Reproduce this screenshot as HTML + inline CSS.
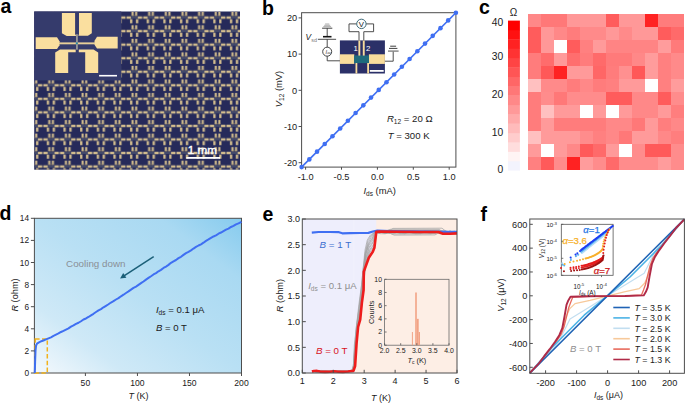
<!DOCTYPE html>
<html><head><meta charset="utf-8"><style>
html,body{margin:0;padding:0;background:#fff;width:685px;height:403px;overflow:hidden;}
svg{display:block;font-family:"Liberation Sans",sans-serif;}
</style></head><body>
<svg width="685" height="403" viewBox="0 0 685 403" font-family='"Liberation Sans", sans-serif'><defs><pattern id="pa" patternUnits="userSpaceOnUse" x="26.13" y="10.83" width="16.65" height="13.54"><rect x="4.82" y="5.87" width="7.00" height="1.80" fill="#444a6c"/><rect x="0.52" y="5.57" width="4.30" height="2.40" fill="#d4be8e"/><rect x="11.82" y="5.57" width="4.30" height="2.40" fill="#d4be8e"/><rect x="5.47" y="0.87" width="2.05" height="4.20" fill="#d4be8e"/><rect x="9.12" y="0.87" width="2.05" height="4.20" fill="#d4be8e"/><rect x="5.47" y="4.47" width="5.70" height="0.60" fill="#9c8c6c"/><rect x="4.02" y="8.37" width="2.30" height="4.10" fill="#d4be8e"/><rect x="9.92" y="8.37" width="2.30" height="4.10" fill="#d4be8e"/></pattern><filter id="blur1" x="-5%" y="-5%" width="110%" height="110%"><feGaussianBlur stdDeviation="0.45"/></filter><linearGradient id="gd" x1="0" y1="1" x2="1" y2="0"><stop offset="0" stop-color="#f4f9fd"/><stop offset="0.22" stop-color="#cfe9f7"/><stop offset="0.5" stop-color="#b9e0f4"/><stop offset="0.8" stop-color="#a9d9f2"/><stop offset="1" stop-color="#86cbee"/></linearGradient></defs><text x="0.5" y="12.7" font-size="19.5" text-anchor="start" fill="#000" font-weight="bold" font-style="normal" >a</text>
<text x="262" y="14.5" font-size="19.5" text-anchor="start" fill="#000" font-weight="bold" font-style="normal" >b</text>
<text x="479" y="14.4" font-size="19.5" text-anchor="start" fill="#000" font-weight="bold" font-style="normal" >c</text>
<text x="-0.5" y="219.7" font-size="19.5" text-anchor="start" fill="#000" font-weight="bold" font-style="normal" >d</text>
<text x="262.5" y="221.3" font-size="19.5" text-anchor="start" fill="#000" font-weight="bold" font-style="normal" >e</text>
<text x="480.5" y="221.2" font-size="19.5" text-anchor="start" fill="#000" font-weight="bold" font-style="normal" >f</text>
<g filter="url(#blur1)">
<rect x="34.2" y="11.5" width="205.80" height="158.20" fill="#262b5a"/>
<rect x="34.2" y="11.5" width="205.80" height="158.20" fill="url(#pa)"/>
<rect x="34.2" y="11.5" width="87.00" height="68.90" fill="#363a6c"/>
<polygon points="61.90,13.00 75.10,13.00 75.10,33.90 76.20,35.90 66.70,35.90 61.90,33.30" fill="#fadf9f"/>
<polygon points="79.00,13.00 91.80,13.00 91.80,33.30 87.90,35.80 78.40,35.80 79.00,33.90" fill="#fadf9f"/>
<polygon points="35.70,37.20 57.00,37.20 59.50,41.20 59.50,45.20 57.00,49.00 35.70,49.00" fill="#fadf9f"/>
<polygon points="117.70,36.70 97.00,36.70 94.50,40.80 94.50,44.80 97.00,48.60 117.70,48.60" fill="#fadf9f"/>
<polygon points="55.20,73.00 55.20,52.50 60.00,49.60 75.70,49.60 75.70,52.30 68.20,52.30 68.20,73.00" fill="#fadf9f"/>
<polygon points="98.20,73.00 98.20,52.50 93.50,49.60 78.80,49.60 78.80,52.30 85.20,52.30 85.20,73.00" fill="#fadf9f"/>
<rect x="59" y="42.4" width="17.2" height="1.9" fill="#e8cf98"/>
<rect x="77.8" y="42.4" width="17.2" height="1.9" fill="#e8cf98"/>
<rect x="76.3" y="34.2" width="1.3" height="15.5" fill="#c0bca8"/>
<circle cx="76.8" cy="43.3" r="1.1" fill="#2a8aa0"/>
<rect x="99.1" y="74.9" width="17.9" height="1.6" fill="#fff"/>
</g>
<rect x="186.3" y="157" width="33.8" height="1.8" fill="#fff"/>
<text x="187.7" y="153.6" font-size="10.2" text-anchor="start" fill="#fff" font-weight="normal" font-style="normal" textLength="29.3" lengthAdjust="spacingAndGlyphs" stroke="#fff" stroke-width="0.35">1 mm</text>
<rect x="301.6" y="12.7" width="154.30" height="154.40" fill="none" stroke="#4d4d4d" stroke-width="1"/>
<line x1="305.60" y1="167.1" x2="305.60" y2="169.7" stroke="#4d4d4d" stroke-width="1"/>
<text x="305.6" y="180.3" font-size="9.2" text-anchor="middle" fill="#1a1a1a" font-weight="normal" font-style="normal" >-1.0</text>
<line x1="341.50" y1="167.1" x2="341.50" y2="169.7" stroke="#4d4d4d" stroke-width="1"/>
<text x="341.5" y="180.3" font-size="9.2" text-anchor="middle" fill="#1a1a1a" font-weight="normal" font-style="normal" >-0.5</text>
<line x1="377.40" y1="167.1" x2="377.40" y2="169.7" stroke="#4d4d4d" stroke-width="1"/>
<text x="377.4" y="180.3" font-size="9.2" text-anchor="middle" fill="#1a1a1a" font-weight="normal" font-style="normal" >0.0</text>
<line x1="413.30" y1="167.1" x2="413.30" y2="169.7" stroke="#4d4d4d" stroke-width="1"/>
<text x="413.3" y="180.3" font-size="9.2" text-anchor="middle" fill="#1a1a1a" font-weight="normal" font-style="normal" >0.5</text>
<line x1="449.20" y1="167.1" x2="449.20" y2="169.7" stroke="#4d4d4d" stroke-width="1"/>
<text x="449.2" y="180.3" font-size="9.2" text-anchor="middle" fill="#1a1a1a" font-weight="normal" font-style="normal" >1.0</text>
<line x1="298.6" y1="17.90" x2="301.6" y2="17.90" stroke="#4d4d4d" stroke-width="1"/>
<text x="297.2" y="21.2" font-size="9.2" text-anchor="end" fill="#1a1a1a" font-weight="normal" font-style="normal" >20</text>
<line x1="298.6" y1="54.10" x2="301.6" y2="54.10" stroke="#4d4d4d" stroke-width="1"/>
<text x="297.2" y="57.4" font-size="9.2" text-anchor="end" fill="#1a1a1a" font-weight="normal" font-style="normal" >10</text>
<line x1="298.6" y1="90.30" x2="301.6" y2="90.30" stroke="#4d4d4d" stroke-width="1"/>
<text x="297.2" y="93.6" font-size="9.2" text-anchor="end" fill="#1a1a1a" font-weight="normal" font-style="normal" >0</text>
<line x1="298.6" y1="126.50" x2="301.6" y2="126.50" stroke="#4d4d4d" stroke-width="1"/>
<text x="297.2" y="129.8" font-size="9.2" text-anchor="end" fill="#1a1a1a" font-weight="normal" font-style="normal" >-10</text>
<line x1="298.6" y1="162.70" x2="301.6" y2="162.70" stroke="#4d4d4d" stroke-width="1"/>
<text x="297.2" y="166.0" font-size="9.2" text-anchor="end" fill="#1a1a1a" font-weight="normal" font-style="normal" >-20</text>
<text x="0" y="0" font-size="9.4" text-anchor="middle" fill="#1a1a1a" transform="translate(281.6,89) rotate(-90)"><tspan font-style="italic">V</tspan><tspan font-size="6.5" dy="2">12</tspan><tspan dy="-2"> (mV)</tspan></text>
<text x="363.5" y="193.6" font-size="9.4" fill="#1a1a1a"><tspan font-style="italic">I</tspan><tspan font-size="6.5" dy="2">ds</tspan><tspan dy="-2"> (mA)</tspan></text>
<line x1="301.6" y1="167.1" x2="455.9" y2="12.7" stroke="#3f6ff2" stroke-width="1.6"/>
<circle cx="301.60" cy="167.10" r="2.3" fill="#3f6ff2"/>
<circle cx="309.31" cy="159.38" r="2.3" fill="#3f6ff2"/>
<circle cx="317.03" cy="151.66" r="2.3" fill="#3f6ff2"/>
<circle cx="324.75" cy="143.94" r="2.3" fill="#3f6ff2"/>
<circle cx="332.46" cy="136.22" r="2.3" fill="#3f6ff2"/>
<circle cx="340.18" cy="128.50" r="2.3" fill="#3f6ff2"/>
<circle cx="347.89" cy="120.78" r="2.3" fill="#3f6ff2"/>
<circle cx="355.61" cy="113.06" r="2.3" fill="#3f6ff2"/>
<circle cx="363.32" cy="105.34" r="2.3" fill="#3f6ff2"/>
<circle cx="371.03" cy="97.62" r="2.3" fill="#3f6ff2"/>
<circle cx="378.75" cy="89.90" r="2.3" fill="#3f6ff2"/>
<circle cx="386.47" cy="82.18" r="2.3" fill="#3f6ff2"/>
<circle cx="394.18" cy="74.46" r="2.3" fill="#3f6ff2"/>
<circle cx="401.89" cy="66.74" r="2.3" fill="#3f6ff2"/>
<circle cx="409.61" cy="59.02" r="2.3" fill="#3f6ff2"/>
<circle cx="417.32" cy="51.30" r="2.3" fill="#3f6ff2"/>
<circle cx="425.04" cy="43.58" r="2.3" fill="#3f6ff2"/>
<circle cx="432.75" cy="35.86" r="2.3" fill="#3f6ff2"/>
<circle cx="440.47" cy="28.14" r="2.3" fill="#3f6ff2"/>
<circle cx="448.18" cy="20.42" r="2.3" fill="#3f6ff2"/>
<circle cx="455.90" cy="12.70" r="2.3" fill="#3f6ff2"/>
<text x="386.9" y="121.9" font-size="9.6" fill="#1a1a1a"><tspan font-style="italic">R</tspan><tspan font-size="6.6" dy="2.4">12</tspan><tspan dy="-2.4"> = 20 Ω</tspan></text>
<text x="387.7" y="139.2" font-size="9.6" fill="#1a1a1a"><tspan font-style="italic">T</tspan> = 300 K</text>
<line x1="325.09999999999997" y1="24.0" x2="329.3" y2="24.0" stroke="#9a9a9a" stroke-width="0.8"/>
<line x1="324.2" y1="25.3" x2="330.2" y2="25.3" stroke="#9a9a9a" stroke-width="0.8"/>
<line x1="323.3" y1="26.6" x2="331.09999999999997" y2="26.6" stroke="#9a9a9a" stroke-width="0.8"/>
<line x1="322.09999999999997" y1="28.2" x2="332.3" y2="28.2" stroke="#2a2a2a" stroke-width="0.9"/>
<line x1="327.2" y1="28.2" x2="327.2" y2="36.0" stroke="#3a3a3a" stroke-width="0.9"/>
<line x1="323.0" y1="36.7" x2="331.5" y2="36.7" stroke="#111" stroke-width="1.6"/>
<line x1="317.9" y1="39.3" x2="336.1" y2="39.3" stroke="#3a3a3a" stroke-width="0.9"/>
<line x1="327.2" y1="39.3" x2="327.2" y2="47.2" stroke="#3a3a3a" stroke-width="0.9"/>
<circle cx="327.2" cy="51.7" r="4.5" fill="#fff" stroke="#333" stroke-width="0.9"/>
<text x="325.59999999999997" y="53.6" font-size="5.6" font-style="italic" fill="#333">I<tspan font-size="3.6" dy="0.8">ac</tspan></text>
<line x1="327.2" y1="56.2" x2="327.2" y2="60.8" stroke="#3a3a3a" stroke-width="0.9"/>
<line x1="327.2" y1="60.8" x2="340" y2="60.8" stroke="#3a3a3a" stroke-width="0.9"/>
<text x="305.6" y="39.5" font-size="8.4" fill="#1a1a1a"><tspan font-style="italic">V</tspan><tspan font-size="5.4" dy="2.3" fill="#808080">sd</tspan></text>
<rect x="339.9" y="40.4" width="45" height="33.1" fill="#2b3068"/>
<rect x="339.9" y="54.3" width="14.4" height="9.6" fill="#f8dc9c"/>
<rect x="368.9" y="54.3" width="16" height="9.6" fill="#f8dc9c"/>
<rect x="354.1" y="55.4" width="14.9" height="7.7" fill="#1f6b7c"/>
<rect x="358.4" y="40.4" width="1.9" height="15.2" fill="#f8dc9c"/>
<rect x="362.8" y="40.4" width="1.9" height="15.2" fill="#f8dc9c"/>
<rect x="355.5" y="63" width="1.8" height="10.5" fill="#f8dc9c"/>
<rect x="367.2" y="63" width="1.8" height="10.5" fill="#f8dc9c"/>
<rect x="369.8" y="70" width="13.9" height="1.8" fill="#fff"/>
<text x="353.6" y="50.6" font-size="7.8" text-anchor="start" fill="#fff" font-weight="normal" font-style="normal" >1</text>
<text x="366.0" y="50.6" font-size="7.8" text-anchor="start" fill="#fff" font-weight="normal" font-style="normal" >2</text>
<line x1="359.0" y1="40.4" x2="359.0" y2="31.7" stroke="#3a3a3a" stroke-width="0.9"/>
<line x1="359.0" y1="31.7" x2="349.0" y2="31.7" stroke="#3a3a3a" stroke-width="0.9"/>
<line x1="349.0" y1="31.7" x2="349.0" y2="23.9" stroke="#3a3a3a" stroke-width="0.9"/>
<line x1="349.0" y1="23.9" x2="356.7" y2="23.9" stroke="#3a3a3a" stroke-width="0.9"/>
<line x1="363.8" y1="40.4" x2="363.8" y2="31.7" stroke="#3a3a3a" stroke-width="0.9"/>
<line x1="363.8" y1="31.7" x2="373.6" y2="31.7" stroke="#3a3a3a" stroke-width="0.9"/>
<line x1="373.6" y1="31.7" x2="373.6" y2="23.9" stroke="#3a3a3a" stroke-width="0.9"/>
<line x1="373.6" y1="23.9" x2="366.1" y2="23.9" stroke="#3a3a3a" stroke-width="0.9"/>
<circle cx="361.4" cy="23.9" r="4.7" fill="#fff" stroke="#2a5a6a" stroke-width="0.9"/>
<text x="361.4" y="26.8" font-size="7.8" text-anchor="middle" fill="#1a1a1a" font-weight="normal" font-style="normal" >V</text>
<line x1="384.9" y1="61.2" x2="393.2" y2="61.2" stroke="#3a3a3a" stroke-width="0.9"/>
<line x1="393.2" y1="61.2" x2="393.2" y2="51.1" stroke="#3a3a3a" stroke-width="0.9"/>
<line x1="390.2" y1="46.2" x2="396.1" y2="46.2" stroke="#2a2a2a" stroke-width="0.9"/>
<line x1="389.0" y1="48.4" x2="397.4" y2="48.4" stroke="#2a2a2a" stroke-width="0.9"/>
<line x1="388.0" y1="51.1" x2="398.6" y2="51.1" stroke="#8a8a8a" stroke-width="1.5"/>
<rect x="527.50" y="13.50" width="13.30" height="13.30" fill="#ff8888" shape-rendering="crispEdges"/>
<rect x="540.50" y="13.50" width="13.30" height="13.30" fill="#ff7878" shape-rendering="crispEdges"/>
<rect x="553.50" y="13.50" width="13.30" height="13.30" fill="#ff7878" shape-rendering="crispEdges"/>
<rect x="566.50" y="13.50" width="13.30" height="13.30" fill="#ff9898" shape-rendering="crispEdges"/>
<rect x="579.50" y="13.50" width="13.30" height="13.30" fill="#ff9898" shape-rendering="crispEdges"/>
<rect x="592.50" y="13.50" width="13.30" height="13.30" fill="#ff9898" shape-rendering="crispEdges"/>
<rect x="605.50" y="13.50" width="13.30" height="13.30" fill="#ff5c5c" shape-rendering="crispEdges"/>
<rect x="618.50" y="13.50" width="13.30" height="13.30" fill="#ff9898" shape-rendering="crispEdges"/>
<rect x="631.50" y="13.50" width="13.30" height="13.30" fill="#ff9898" shape-rendering="crispEdges"/>
<rect x="644.50" y="13.50" width="13.30" height="13.30" fill="#ff2222" shape-rendering="crispEdges"/>
<rect x="657.50" y="13.50" width="13.30" height="13.30" fill="#ff7c7c" shape-rendering="crispEdges"/>
<rect x="670.50" y="13.50" width="13.30" height="13.30" fill="#ff7c7c" shape-rendering="crispEdges"/>
<rect x="527.50" y="26.50" width="13.30" height="13.30" fill="#ff5c5c" shape-rendering="crispEdges"/>
<rect x="540.50" y="26.50" width="13.30" height="13.30" fill="#ff9898" shape-rendering="crispEdges"/>
<rect x="553.50" y="26.50" width="13.30" height="13.30" fill="#ff8888" shape-rendering="crispEdges"/>
<rect x="566.50" y="26.50" width="13.30" height="13.30" fill="#ff7c7c" shape-rendering="crispEdges"/>
<rect x="579.50" y="26.50" width="13.30" height="13.30" fill="#ff8a8a" shape-rendering="crispEdges"/>
<rect x="592.50" y="26.50" width="13.30" height="13.30" fill="#ff8a8a" shape-rendering="crispEdges"/>
<rect x="605.50" y="26.50" width="13.30" height="13.30" fill="#ff9898" shape-rendering="crispEdges"/>
<rect x="618.50" y="26.50" width="13.30" height="13.30" fill="#ff8a8a" shape-rendering="crispEdges"/>
<rect x="631.50" y="26.50" width="13.30" height="13.30" fill="#ff9898" shape-rendering="crispEdges"/>
<rect x="644.50" y="26.50" width="13.30" height="13.30" fill="#ff9898" shape-rendering="crispEdges"/>
<rect x="657.50" y="26.50" width="13.30" height="13.30" fill="#ff5c5c" shape-rendering="crispEdges"/>
<rect x="670.50" y="26.50" width="13.30" height="13.30" fill="#ff6a6a" shape-rendering="crispEdges"/>
<rect x="527.50" y="39.50" width="13.30" height="13.30" fill="#ff5c5c" shape-rendering="crispEdges"/>
<rect x="540.50" y="39.50" width="13.30" height="13.30" fill="#ff9898" shape-rendering="crispEdges"/>
<rect x="553.50" y="39.50" width="13.30" height="13.30" fill="#ffffff" shape-rendering="crispEdges"/>
<rect x="566.50" y="39.50" width="13.30" height="13.30" fill="#ff5c5c" shape-rendering="crispEdges"/>
<rect x="579.50" y="39.50" width="13.30" height="13.30" fill="#ff8080" shape-rendering="crispEdges"/>
<rect x="592.50" y="39.50" width="13.30" height="13.30" fill="#ff9a9a" shape-rendering="crispEdges"/>
<rect x="605.50" y="39.50" width="13.30" height="13.30" fill="#ff8484" shape-rendering="crispEdges"/>
<rect x="618.50" y="39.50" width="13.30" height="13.30" fill="#ff8484" shape-rendering="crispEdges"/>
<rect x="631.50" y="39.50" width="13.30" height="13.30" fill="#ff8484" shape-rendering="crispEdges"/>
<rect x="644.50" y="39.50" width="13.30" height="13.30" fill="#ff8484" shape-rendering="crispEdges"/>
<rect x="657.50" y="39.50" width="13.30" height="13.30" fill="#ff9c9c" shape-rendering="crispEdges"/>
<rect x="670.50" y="39.50" width="13.30" height="13.30" fill="#ff7a7a" shape-rendering="crispEdges"/>
<rect x="527.50" y="52.50" width="13.30" height="13.30" fill="#ff7c7c" shape-rendering="crispEdges"/>
<rect x="540.50" y="52.50" width="13.30" height="13.30" fill="#ff6c6c" shape-rendering="crispEdges"/>
<rect x="553.50" y="52.50" width="13.30" height="13.30" fill="#ff9a9a" shape-rendering="crispEdges"/>
<rect x="566.50" y="52.50" width="13.30" height="13.30" fill="#ff6e6e" shape-rendering="crispEdges"/>
<rect x="579.50" y="52.50" width="13.30" height="13.30" fill="#ff7c7c" shape-rendering="crispEdges"/>
<rect x="592.50" y="52.50" width="13.30" height="13.30" fill="#ff6a6a" shape-rendering="crispEdges"/>
<rect x="605.50" y="52.50" width="13.30" height="13.30" fill="#ff7a7a" shape-rendering="crispEdges"/>
<rect x="618.50" y="52.50" width="13.30" height="13.30" fill="#ff7a7a" shape-rendering="crispEdges"/>
<rect x="631.50" y="52.50" width="13.30" height="13.30" fill="#ff8888" shape-rendering="crispEdges"/>
<rect x="644.50" y="52.50" width="13.30" height="13.30" fill="#ff9c9c" shape-rendering="crispEdges"/>
<rect x="657.50" y="52.50" width="13.30" height="13.30" fill="#ff8080" shape-rendering="crispEdges"/>
<rect x="670.50" y="52.50" width="13.30" height="13.30" fill="#ff8a8a" shape-rendering="crispEdges"/>
<rect x="527.50" y="65.50" width="13.30" height="13.30" fill="#ff7c7c" shape-rendering="crispEdges"/>
<rect x="540.50" y="65.50" width="13.30" height="13.30" fill="#ff5858" shape-rendering="crispEdges"/>
<rect x="553.50" y="65.50" width="13.30" height="13.30" fill="#ff2222" shape-rendering="crispEdges"/>
<rect x="566.50" y="65.50" width="13.30" height="13.30" fill="#ff9a9a" shape-rendering="crispEdges"/>
<rect x="579.50" y="65.50" width="13.30" height="13.30" fill="#ff9a9a" shape-rendering="crispEdges"/>
<rect x="592.50" y="65.50" width="13.30" height="13.30" fill="#ff6666" shape-rendering="crispEdges"/>
<rect x="605.50" y="65.50" width="13.30" height="13.30" fill="#ff7c7c" shape-rendering="crispEdges"/>
<rect x="618.50" y="65.50" width="13.30" height="13.30" fill="#ff9090" shape-rendering="crispEdges"/>
<rect x="631.50" y="65.50" width="13.30" height="13.30" fill="#ff5858" shape-rendering="crispEdges"/>
<rect x="644.50" y="65.50" width="13.30" height="13.30" fill="#ff9c9c" shape-rendering="crispEdges"/>
<rect x="657.50" y="65.50" width="13.30" height="13.30" fill="#ff8080" shape-rendering="crispEdges"/>
<rect x="670.50" y="65.50" width="13.30" height="13.30" fill="#ff8a8a" shape-rendering="crispEdges"/>
<rect x="527.50" y="78.50" width="13.30" height="13.30" fill="#ffc0c0" shape-rendering="crispEdges"/>
<rect x="540.50" y="78.50" width="13.30" height="13.30" fill="#ff8a8a" shape-rendering="crispEdges"/>
<rect x="553.50" y="78.50" width="13.30" height="13.30" fill="#ff8a8a" shape-rendering="crispEdges"/>
<rect x="566.50" y="78.50" width="13.30" height="13.30" fill="#ff7c7c" shape-rendering="crispEdges"/>
<rect x="579.50" y="78.50" width="13.30" height="13.30" fill="#ff8888" shape-rendering="crispEdges"/>
<rect x="592.50" y="78.50" width="13.30" height="13.30" fill="#ff7c7c" shape-rendering="crispEdges"/>
<rect x="605.50" y="78.50" width="13.30" height="13.30" fill="#ff8080" shape-rendering="crispEdges"/>
<rect x="618.50" y="78.50" width="13.30" height="13.30" fill="#ff9a9a" shape-rendering="crispEdges"/>
<rect x="631.50" y="78.50" width="13.30" height="13.30" fill="#ff9a9a" shape-rendering="crispEdges"/>
<rect x="644.50" y="78.50" width="13.30" height="13.30" fill="#ffffff" shape-rendering="crispEdges"/>
<rect x="657.50" y="78.50" width="13.30" height="13.30" fill="#ff8080" shape-rendering="crispEdges"/>
<rect x="670.50" y="78.50" width="13.30" height="13.30" fill="#ff9c9c" shape-rendering="crispEdges"/>
<rect x="527.50" y="91.50" width="13.30" height="13.30" fill="#ff7c7c" shape-rendering="crispEdges"/>
<rect x="540.50" y="91.50" width="13.30" height="13.30" fill="#ff8c8c" shape-rendering="crispEdges"/>
<rect x="553.50" y="91.50" width="13.30" height="13.30" fill="#ff7878" shape-rendering="crispEdges"/>
<rect x="566.50" y="91.50" width="13.30" height="13.30" fill="#ff8c8c" shape-rendering="crispEdges"/>
<rect x="579.50" y="91.50" width="13.30" height="13.30" fill="#ff8c8c" shape-rendering="crispEdges"/>
<rect x="592.50" y="91.50" width="13.30" height="13.30" fill="#ff8c8c" shape-rendering="crispEdges"/>
<rect x="605.50" y="91.50" width="13.30" height="13.30" fill="#ff5c5c" shape-rendering="crispEdges"/>
<rect x="618.50" y="91.50" width="13.30" height="13.30" fill="#ff5c5c" shape-rendering="crispEdges"/>
<rect x="631.50" y="91.50" width="13.30" height="13.30" fill="#ff8888" shape-rendering="crispEdges"/>
<rect x="644.50" y="91.50" width="13.30" height="13.30" fill="#ff8888" shape-rendering="crispEdges"/>
<rect x="657.50" y="91.50" width="13.30" height="13.30" fill="#ff5c5c" shape-rendering="crispEdges"/>
<rect x="670.50" y="91.50" width="13.30" height="13.30" fill="#ff8c8c" shape-rendering="crispEdges"/>
<rect x="527.50" y="104.50" width="13.30" height="13.30" fill="#ff7c7c" shape-rendering="crispEdges"/>
<rect x="540.50" y="104.50" width="13.30" height="13.30" fill="#ffc0c0" shape-rendering="crispEdges"/>
<rect x="553.50" y="104.50" width="13.30" height="13.30" fill="#ff9a9a" shape-rendering="crispEdges"/>
<rect x="566.50" y="104.50" width="13.30" height="13.30" fill="#ff9a9a" shape-rendering="crispEdges"/>
<rect x="579.50" y="104.50" width="13.30" height="13.30" fill="#ffffff" shape-rendering="crispEdges"/>
<rect x="592.50" y="104.50" width="13.30" height="13.30" fill="#ff9a9a" shape-rendering="crispEdges"/>
<rect x="605.50" y="104.50" width="13.30" height="13.30" fill="#ffffff" shape-rendering="crispEdges"/>
<rect x="618.50" y="104.50" width="13.30" height="13.30" fill="#ff9a9a" shape-rendering="crispEdges"/>
<rect x="631.50" y="104.50" width="13.30" height="13.30" fill="#ff8888" shape-rendering="crispEdges"/>
<rect x="644.50" y="104.50" width="13.30" height="13.30" fill="#ff8888" shape-rendering="crispEdges"/>
<rect x="657.50" y="104.50" width="13.30" height="13.30" fill="#ff9a9a" shape-rendering="crispEdges"/>
<rect x="670.50" y="104.50" width="13.30" height="13.30" fill="#ff7e7e" shape-rendering="crispEdges"/>
<rect x="527.50" y="117.50" width="13.30" height="13.30" fill="#ff7c7c" shape-rendering="crispEdges"/>
<rect x="540.50" y="117.50" width="13.30" height="13.30" fill="#ff9a9a" shape-rendering="crispEdges"/>
<rect x="553.50" y="117.50" width="13.30" height="13.30" fill="#ff7c7c" shape-rendering="crispEdges"/>
<rect x="566.50" y="117.50" width="13.30" height="13.30" fill="#ff7c7c" shape-rendering="crispEdges"/>
<rect x="579.50" y="117.50" width="13.30" height="13.30" fill="#ff7c7c" shape-rendering="crispEdges"/>
<rect x="592.50" y="117.50" width="13.30" height="13.30" fill="#ff7c7c" shape-rendering="crispEdges"/>
<rect x="605.50" y="117.50" width="13.30" height="13.30" fill="#ff8888" shape-rendering="crispEdges"/>
<rect x="618.50" y="117.50" width="13.30" height="13.30" fill="#ff8888" shape-rendering="crispEdges"/>
<rect x="631.50" y="117.50" width="13.30" height="13.30" fill="#ff7878" shape-rendering="crispEdges"/>
<rect x="644.50" y="117.50" width="13.30" height="13.30" fill="#ff9a9a" shape-rendering="crispEdges"/>
<rect x="657.50" y="117.50" width="13.30" height="13.30" fill="#ff7e7e" shape-rendering="crispEdges"/>
<rect x="670.50" y="117.50" width="13.30" height="13.30" fill="#ff8888" shape-rendering="crispEdges"/>
<rect x="527.50" y="130.50" width="13.30" height="13.30" fill="#ffc0c0" shape-rendering="crispEdges"/>
<rect x="540.50" y="130.50" width="13.30" height="13.30" fill="#ff9a9a" shape-rendering="crispEdges"/>
<rect x="553.50" y="130.50" width="13.30" height="13.30" fill="#ff9a9a" shape-rendering="crispEdges"/>
<rect x="566.50" y="130.50" width="13.30" height="13.30" fill="#ff9a9a" shape-rendering="crispEdges"/>
<rect x="579.50" y="130.50" width="13.30" height="13.30" fill="#ff8c8c" shape-rendering="crispEdges"/>
<rect x="592.50" y="130.50" width="13.30" height="13.30" fill="#ff8080" shape-rendering="crispEdges"/>
<rect x="605.50" y="130.50" width="13.30" height="13.30" fill="#ff8888" shape-rendering="crispEdges"/>
<rect x="618.50" y="130.50" width="13.30" height="13.30" fill="#ff7878" shape-rendering="crispEdges"/>
<rect x="631.50" y="130.50" width="13.30" height="13.30" fill="#ff9a9a" shape-rendering="crispEdges"/>
<rect x="644.50" y="130.50" width="13.30" height="13.30" fill="#ff9a9a" shape-rendering="crispEdges"/>
<rect x="657.50" y="130.50" width="13.30" height="13.30" fill="#ff8888" shape-rendering="crispEdges"/>
<rect x="670.50" y="130.50" width="13.30" height="13.30" fill="#ff7e7e" shape-rendering="crispEdges"/>
<rect x="527.50" y="143.50" width="13.30" height="13.30" fill="#ff9a9a" shape-rendering="crispEdges"/>
<rect x="540.50" y="143.50" width="13.30" height="13.30" fill="#ffffff" shape-rendering="crispEdges"/>
<rect x="553.50" y="143.50" width="13.30" height="13.30" fill="#ff9a9a" shape-rendering="crispEdges"/>
<rect x="566.50" y="143.50" width="13.30" height="13.30" fill="#ff8888" shape-rendering="crispEdges"/>
<rect x="579.50" y="143.50" width="13.30" height="13.30" fill="#ff5a5a" shape-rendering="crispEdges"/>
<rect x="592.50" y="143.50" width="13.30" height="13.30" fill="#ff6a6a" shape-rendering="crispEdges"/>
<rect x="605.50" y="143.50" width="13.30" height="13.30" fill="#ff9a9a" shape-rendering="crispEdges"/>
<rect x="618.50" y="143.50" width="13.30" height="13.30" fill="#ffffff" shape-rendering="crispEdges"/>
<rect x="631.50" y="143.50" width="13.30" height="13.30" fill="#ff8c8c" shape-rendering="crispEdges"/>
<rect x="644.50" y="143.50" width="13.30" height="13.30" fill="#ff5a5a" shape-rendering="crispEdges"/>
<rect x="657.50" y="143.50" width="13.30" height="13.30" fill="#ff5a5a" shape-rendering="crispEdges"/>
<rect x="670.50" y="143.50" width="13.30" height="13.30" fill="#ff8c8c" shape-rendering="crispEdges"/>
<rect x="527.50" y="156.50" width="13.30" height="13.30" fill="#ff8080" shape-rendering="crispEdges"/>
<rect x="540.50" y="156.50" width="13.30" height="13.30" fill="#ff5a5a" shape-rendering="crispEdges"/>
<rect x="553.50" y="156.50" width="13.30" height="13.30" fill="#ff8c8c" shape-rendering="crispEdges"/>
<rect x="566.50" y="156.50" width="13.30" height="13.30" fill="#ff2222" shape-rendering="crispEdges"/>
<rect x="579.50" y="156.50" width="13.30" height="13.30" fill="#ff9c9c" shape-rendering="crispEdges"/>
<rect x="592.50" y="156.50" width="13.30" height="13.30" fill="#ff8c8c" shape-rendering="crispEdges"/>
<rect x="605.50" y="156.50" width="13.30" height="13.30" fill="#ff6a6a" shape-rendering="crispEdges"/>
<rect x="618.50" y="156.50" width="13.30" height="13.30" fill="#ff8c8c" shape-rendering="crispEdges"/>
<rect x="631.50" y="156.50" width="13.30" height="13.30" fill="#ff8c8c" shape-rendering="crispEdges"/>
<rect x="644.50" y="156.50" width="13.30" height="13.30" fill="#ff8c8c" shape-rendering="crispEdges"/>
<rect x="657.50" y="156.50" width="13.30" height="13.30" fill="#ff9c9c" shape-rendering="crispEdges"/>
<rect x="670.50" y="156.50" width="13.30" height="13.30" fill="#ff8c8c" shape-rendering="crispEdges"/>
<rect x="508.0" y="160.94" width="11.9" height="9.66" fill="#f3f3fd"/>
<rect x="508.0" y="151.59" width="11.9" height="9.66" fill="#fff4f4"/>
<rect x="508.0" y="142.23" width="11.9" height="9.66" fill="#ffdddd"/>
<rect x="508.0" y="132.88" width="11.9" height="9.66" fill="#ffcccc"/>
<rect x="508.0" y="123.52" width="11.9" height="9.66" fill="#ffbbbb"/>
<rect x="508.0" y="114.16" width="11.9" height="9.66" fill="#ffaaaa"/>
<rect x="508.0" y="104.81" width="11.9" height="9.66" fill="#ff9999"/>
<rect x="508.0" y="95.45" width="11.9" height="9.66" fill="#ff8888"/>
<rect x="508.0" y="86.09" width="11.9" height="9.66" fill="#ff7777"/>
<rect x="508.0" y="76.74" width="11.9" height="9.66" fill="#ff6666"/>
<rect x="508.0" y="67.38" width="11.9" height="9.66" fill="#ff5555"/>
<rect x="508.0" y="58.03" width="11.9" height="9.66" fill="#ff4444"/>
<rect x="508.0" y="48.67" width="11.9" height="9.66" fill="#ff3333"/>
<rect x="508.0" y="39.31" width="11.9" height="9.66" fill="#ff2222"/>
<rect x="508.0" y="29.96" width="11.9" height="9.66" fill="#ff1111"/>
<rect x="508.0" y="20.60" width="11.9" height="9.66" fill="#ff0000"/>
<text x="503.2" y="26.0" font-size="10.3" text-anchor="end" fill="#1a1a1a" font-weight="normal" font-style="normal" >40</text>
<text x="503.2" y="60.3" font-size="10.3" text-anchor="end" fill="#1a1a1a" font-weight="normal" font-style="normal" >30</text>
<text x="503.2" y="97.9" font-size="10.3" text-anchor="end" fill="#1a1a1a" font-weight="normal" font-style="normal" >20</text>
<text x="503.2" y="136.0" font-size="10.3" text-anchor="end" fill="#1a1a1a" font-weight="normal" font-style="normal" >10</text>
<text x="503.2" y="172.9" font-size="10.3" text-anchor="end" fill="#1a1a1a" font-weight="normal" font-style="normal" >0</text>
<text x="513.6" y="15.6" font-size="10" text-anchor="middle" fill="#1a1a1a" font-weight="normal" font-style="normal" >Ω</text>
<rect x="34.4" y="218.3" width="207.10" height="154.70" fill="url(#gd)" stroke="#4d4d4d" stroke-width="1"/>
<line x1="30.9" y1="373.00" x2="34.4" y2="373.00" stroke="#4d4d4d" stroke-width="1"/>
<text x="29.0" y="376.0" font-size="8.3" text-anchor="end" fill="#1a1a1a" font-weight="normal" font-style="normal" >0</text>
<line x1="30.9" y1="350.90" x2="34.4" y2="350.90" stroke="#4d4d4d" stroke-width="1"/>
<text x="29.0" y="353.9" font-size="8.3" text-anchor="end" fill="#1a1a1a" font-weight="normal" font-style="normal" >2</text>
<line x1="30.9" y1="328.80" x2="34.4" y2="328.80" stroke="#4d4d4d" stroke-width="1"/>
<text x="29.0" y="331.8" font-size="8.3" text-anchor="end" fill="#1a1a1a" font-weight="normal" font-style="normal" >4</text>
<line x1="30.9" y1="306.70" x2="34.4" y2="306.70" stroke="#4d4d4d" stroke-width="1"/>
<text x="29.0" y="309.7" font-size="8.3" text-anchor="end" fill="#1a1a1a" font-weight="normal" font-style="normal" >6</text>
<line x1="30.9" y1="284.60" x2="34.4" y2="284.60" stroke="#4d4d4d" stroke-width="1"/>
<text x="29.0" y="287.6" font-size="8.3" text-anchor="end" fill="#1a1a1a" font-weight="normal" font-style="normal" >8</text>
<line x1="30.9" y1="262.50" x2="34.4" y2="262.50" stroke="#4d4d4d" stroke-width="1"/>
<text x="29.0" y="265.5" font-size="8.3" text-anchor="end" fill="#1a1a1a" font-weight="normal" font-style="normal" >10</text>
<line x1="30.9" y1="240.40" x2="34.4" y2="240.40" stroke="#4d4d4d" stroke-width="1"/>
<text x="29.0" y="243.4" font-size="8.3" text-anchor="end" fill="#1a1a1a" font-weight="normal" font-style="normal" >12</text>
<line x1="30.9" y1="218.30" x2="34.4" y2="218.30" stroke="#4d4d4d" stroke-width="1"/>
<text x="29.0" y="221.3" font-size="8.3" text-anchor="end" fill="#1a1a1a" font-weight="normal" font-style="normal" >14</text>
<line x1="85.40" y1="373.0" x2="85.40" y2="376.0" stroke="#4d4d4d" stroke-width="1"/>
<text x="85.4" y="386.1" font-size="8.6" text-anchor="middle" fill="#1a1a1a" font-weight="normal" font-style="normal" >50</text>
<line x1="137.44" y1="373.0" x2="137.44" y2="376.0" stroke="#4d4d4d" stroke-width="1"/>
<text x="137.44" y="386.1" font-size="8.6" text-anchor="middle" fill="#1a1a1a" font-weight="normal" font-style="normal" >100</text>
<line x1="189.47" y1="373.0" x2="189.47" y2="376.0" stroke="#4d4d4d" stroke-width="1"/>
<text x="189.47" y="386.1" font-size="8.6" text-anchor="middle" fill="#1a1a1a" font-weight="normal" font-style="normal" >150</text>
<line x1="241.50" y1="373.0" x2="241.50" y2="376.0" stroke="#4d4d4d" stroke-width="1"/>
<text x="241.5" y="386.1" font-size="8.6" text-anchor="middle" fill="#1a1a1a" font-weight="normal" font-style="normal" >200</text>
<text x="0" y="0" font-size="9.2" text-anchor="middle" fill="#1a1a1a" transform="translate(18.2,295) rotate(-90)"><tspan font-style="italic">R</tspan> (ohm)</text>
<text x="128.4" y="398.5" font-size="9.0" fill="#1a1a1a"><tspan font-style="italic">T</tspan> (K)</text>
<rect x="35.2" y="338.9" width="12.1" height="34" fill="none" stroke="#f2b21d" stroke-width="1.5" stroke-dasharray="4.4,2.4"/>
<polyline points="34.8,373 35.1,362 35.5,351 36.1,345.5 37.0,343.6 39,342.3 41.4,341.2 44,340.2 46.0,339.41 48.5,338.31 51.0,337.31 53.5,335.88 56.0,334.67 58.5,333.45 61.0,331.97 63.5,330.84 66.0,329.58 68.5,328.31 71.0,326.6 73.5,325.32 76.0,323.82 78.5,322.76 81.0,321.26 83.5,319.48 86.0,318.48 88.5,316.98 91.0,315.32 93.5,313.79 96.0,312.03 98.5,310.41 101.0,309.11 103.5,307.31 106.0,305.79 108.5,304.23 111.0,302.52 113.5,301.13 116.0,299.5 118.5,298.07 121.0,296.28 123.5,294.7 126.0,292.98 128.5,291.41 131.0,289.65 133.5,287.9 136.0,286.6 138.5,284.93 141.0,283.18 143.5,281.45 146.0,279.58 148.5,277.86 151.0,276.22 153.5,274.45 156.0,273.13 158.5,271.28 161.0,269.84 163.5,267.95 166.0,266.59 168.5,264.89 171.0,262.82 173.5,261.29 176.0,260.01 178.5,258.17 181.0,256.82 183.5,254.92 186.0,253.17 188.5,251.86 191.0,250.37 193.5,248.55 196.0,246.92 198.5,245.5 201.0,244.3 203.5,242.69 206.0,240.88 208.5,239.47 211.0,237.94 213.5,236.48 216.0,235.42 218.5,233.71 221.0,232.51 223.5,231.09 226.0,229.62 228.5,228.56 231.0,226.96 233.5,225.93 236.0,224.41 238.5,223.33 241.5,221.78" fill="none" stroke="#3f6ff2" stroke-width="2" stroke-linejoin="round"/>
<line x1="153.7" y1="256.6" x2="124" y2="275.9" stroke="#1b5f78" stroke-width="1.5"/>
<polygon points="120.1,278.5 123.2,272.9 126.4,277.7" fill="#1b5f78"/>
<text x="66.1" y="267.1" font-size="9.8" text-anchor="start" fill="#8a8f96" font-weight="normal" font-style="normal" >Cooling down</text>
<text x="155.9" y="313.1" font-size="9.6" fill="#1a1a1a"><tspan font-style="italic">I</tspan><tspan font-size="6.6" dy="2">ds</tspan><tspan dy="-2"> = 0.1 μA</tspan></text>
<text x="155.9" y="330.6" font-size="9.6" fill="#1a1a1a"><tspan font-style="italic">B</tspan> = 0 T</text>
<rect x="302.3" y="219.0" width="154.70" height="154.00" fill="#eeeefc"/>
<polygon points="376.3,219.0 457.0,219.0 457.0,373.0 354.5,373.0 355.5,366 357,342.8 358.5,327 360.6,319.6 362.3,302.7 364,290 364.2,271.6 369.2,257.7 373.2,251.7 374.8,247.8 376.3,232" fill="#fdeee5"/>
<rect x="353.2" y="219.0" width="1.2" height="154.0" fill="#f2f2fc" opacity="0.7"/>
<polyline points="312.0,371.5 316.5,371.7 321.0,371.8 325.5,372.1 330.0,371.7 334.5,372.1 339.0,370.5 343.5,371.2 348.0,372.1 351.6,371.2 353.4,366.0 354.3,345.0 356.5,326.0 358.8,305.0 361.5,285.0 363.5,265.0 365.0,250.0 367.3,240.0 370.4,235.0 374.2,232.6 380.0,233.1 385.0,231.1 390.0,233.2 395.0,231.0 400.0,232.6 405.0,231.0 410.0,230.6 415.0,233.4 420.0,231.3 425.0,231.3 430.0,233.7 435.0,233.4 440.0,231.5 445.0,233.7 450.0,232.3 455.0,232.8" fill="none" stroke="#a2a2a2" stroke-width="0.8" stroke-opacity="0.85"/>
<polyline points="312.0,370.8 316.5,372.1 321.0,371.6 325.5,372.1 330.0,372.0 334.5,370.9 339.0,371.1 343.5,370.7 348.0,370.7 351.4,371.2 353.3,366.0 354.8,344.8 356.4,326.1 359.2,306.5 361.4,286.8 363.4,267.0 365.6,251.2 367.7,241.2 370.8,236.1 374.3,232.6 380.0,232.9 385.0,230.8 390.0,233.7 395.0,230.7 400.0,233.0 405.0,233.3 410.0,230.7 415.0,233.1 420.0,231.8 425.0,232.5 430.0,230.6 435.0,230.7 440.0,231.2 445.0,233.7 450.0,231.2 455.0,233.0" fill="none" stroke="#a2a2a2" stroke-width="0.8" stroke-opacity="0.85"/>
<polyline points="312.0,372.1 316.5,372.1 321.0,371.0 325.5,371.0 330.0,371.3 334.5,371.8 339.0,370.6 343.5,371.7 348.0,371.8 352.1,371.2 353.3,366.0 355.2,344.6 356.6,326.2 359.1,307.9 361.6,288.5 363.8,269.0 365.3,252.4 368.3,242.4 371.3,237.2 374.4,232.6 380.0,231.6 385.0,231.2 390.0,230.9 395.0,231.1 400.0,232.8 405.0,233.8 410.0,231.1 415.0,230.8 420.0,233.8 425.0,232.3 430.0,231.9 435.0,231.4 440.0,232.5 445.0,233.2 450.0,232.1 455.0,231.9" fill="none" stroke="#a2a2a2" stroke-width="0.8" stroke-opacity="0.85"/>
<polyline points="312.0,370.5 316.5,372.0 321.0,370.5 325.5,371.3 330.0,371.9 334.5,370.6 339.0,371.7 343.5,372.1 348.0,371.5 352.3,371.1 353.5,366.0 355.1,344.3 356.8,326.3 359.6,309.4 361.5,290.3 363.5,271.0 365.8,253.6 368.5,243.6 372.0,238.3 374.8,232.5 380.0,232.2 385.0,232.9 390.0,232.1 395.0,231.5 400.0,231.9 405.0,231.1 410.0,231.8 415.0,233.8 420.0,233.7 425.0,232.6 430.0,232.2 435.0,231.7 440.0,230.9 445.0,231.5 450.0,233.1 455.0,233.4" fill="none" stroke="#a2a2a2" stroke-width="0.8" stroke-opacity="0.85"/>
<polyline points="312.0,371.1 316.5,371.8 321.0,371.8 325.5,371.7 330.0,371.6 334.5,371.8 339.0,371.1 343.5,371.7 348.0,370.9 352.3,371.1 354.1,366.0 355.5,344.1 357.0,326.4 359.7,310.8 361.7,292.1 363.6,273.0 365.3,254.8 368.5,244.8 372.0,239.4 375.2,232.5 380.0,232.1 385.0,233.2 390.0,232.7 395.0,233.2 400.0,231.7 405.0,232.7 410.0,233.0 415.0,233.3 420.0,231.7 425.0,233.3 430.0,233.4 435.0,232.8 440.0,233.7 445.0,233.7 450.0,232.3 455.0,232.3" fill="none" stroke="#a2a2a2" stroke-width="0.8" stroke-opacity="0.85"/>
<polyline points="312.0,370.7 316.5,371.9 321.0,372.1 325.5,371.3 330.0,371.6 334.5,371.7 339.0,371.7 343.5,370.7 348.0,371.8 352.5,371.1 354.2,366.0 355.5,343.9 357.4,326.5 359.8,312.3 361.8,293.9 363.7,275.0 365.4,256.0 368.5,246.0 372.5,240.5 375.5,232.5 380.0,231.3 385.0,232.8 390.0,232.6 395.0,230.7 400.0,232.1 405.0,231.3 410.0,230.8 415.0,231.0 420.0,231.6 425.0,231.2 430.0,231.2 435.0,230.7 440.0,232.1 445.0,231.8 450.0,232.6 455.0,232.5" fill="none" stroke="#a2a2a2" stroke-width="0.8" stroke-opacity="0.85"/>
<polyline points="312.0,370.8 316.5,372.0 321.0,370.4 325.5,371.1 330.0,370.9 334.5,371.1 339.0,370.6 343.5,371.9 348.0,371.1 352.4,371.1 354.4,366.0 355.5,343.7 357.5,326.6 359.6,313.8 361.8,295.6 363.9,277.0 365.9,257.2 369.0,247.2 373.1,241.6 375.8,232.5 380.0,231.8 385.0,231.1 390.0,232.5 395.0,232.4 400.0,233.7 405.0,233.7 410.0,232.5 415.0,231.7 420.0,233.5 425.0,230.6 430.0,230.9 435.0,232.4 440.0,232.6 445.0,231.1 450.0,232.6 455.0,233.5" fill="none" stroke="#a2a2a2" stroke-width="0.8" stroke-opacity="0.85"/>
<polyline points="312.0,371.1 316.5,371.2 321.0,370.8 325.5,370.9 330.0,372.2 334.5,371.1 339.0,372.1 343.5,372.0 348.0,371.5 352.8,371.1 354.8,366.0 356.0,343.5 357.6,326.7 359.7,315.2 362.1,297.4 363.6,279.0 365.7,258.4 369.2,248.4 373.1,242.7 376.0,232.5 380.0,232.0 385.0,231.5 390.0,233.1 395.0,233.2 400.0,230.6 405.0,232.3 410.0,231.5 415.0,233.6 420.0,233.1 425.0,231.4 430.0,231.5 435.0,231.1 440.0,233.8 445.0,231.5 450.0,232.5 455.0,232.1" fill="none" stroke="#a2a2a2" stroke-width="0.8" stroke-opacity="0.85"/>
<polyline points="312.0,371.6 316.5,371.5 321.0,371.7 325.5,370.6 330.0,371.8 334.5,370.9 339.0,371.4 343.5,371.0 348.0,370.9 353.1,371.0 354.7,366.0 356.1,343.2 357.9,326.8 360.0,316.7 361.5,299.2 363.5,281.0 365.8,259.6 369.7,249.6 374.0,243.8 376.3,232.4 380.0,230.6 385.0,233.1 390.0,232.0 395.0,232.4 400.0,232.9 405.0,232.6 410.0,232.1 415.0,233.5 420.0,231.8 425.0,231.9 430.0,233.3 435.0,231.2 440.0,231.5 445.0,233.3 450.0,230.8 455.0,233.3" fill="none" stroke="#a2a2a2" stroke-width="0.8" stroke-opacity="0.85"/>
<polyline points="312.0,371.7 316.5,371.2 321.0,370.9 325.5,371.8 330.0,372.0 334.5,370.7 339.0,371.3 343.5,371.4 348.0,371.3 353.2,371.0 354.7,366.0 356.4,343.0 358.1,326.9 359.8,318.1 361.7,300.9 363.9,283.0 366.1,260.8 369.8,250.8 373.9,244.9 376.7,232.4 380.0,233.7 385.0,233.8 390.0,232.8 395.0,230.8 400.0,233.3 405.0,231.3 410.0,232.7 415.0,233.6 420.0,232.9 425.0,231.0 430.0,231.5 435.0,233.5 440.0,231.1 445.0,232.6 450.0,231.9 455.0,231.1" fill="none" stroke="#a2a2a2" stroke-width="0.8" stroke-opacity="0.85"/>
<polyline points="312.0,371.5 316.5,370.5 321.0,370.6 325.5,371.1 330.0,370.5 334.5,370.5 339.0,371.4 343.5,371.7 348.0,372.0 353.3,371.0 355.1,366.0 356.5,342.8 358.2,327.0 360.2,319.6 362.2,302.7 363.6,285.0 365.7,262.0 370.1,252.0 374.4,246.0 376.9,232.4 380.0,232.2 385.0,233.5 390.0,232.4 395.0,232.6 400.0,231.4 405.0,232.4 410.0,231.4 415.0,233.0 420.0,232.3 425.0,231.0 430.0,231.4 435.0,231.8 440.0,233.0 445.0,231.2 450.0,232.9 455.0,232.7" fill="none" stroke="#a2a2a2" stroke-width="0.8" stroke-opacity="0.85"/>
<polyline points="377.0,232.3 387.0,232.0 393.0,228.4 442.0,228.2 447.0,232.2 457.0,232.3" fill="none" stroke="#a8a8a8" stroke-width="0.9" stroke-opacity="0.9"/>
<polyline points="377.0,232.3 384.0,232.0 390.0,229.3 439.0,229.4 444.0,232.2 457.0,232.3" fill="none" stroke="#a8a8a8" stroke-width="0.9" stroke-opacity="0.9"/>
<polyline points="377.0,232.3 386.0,232.0 392.0,234.0 431.0,233.8 436.0,232.2 457.0,232.3" fill="none" stroke="#a8a8a8" stroke-width="0.9" stroke-opacity="0.9"/>
<polyline points="377.0,232.3 388.0,232.0 394.0,235.1 435.0,234.9 440.0,232.2 457.0,232.3" fill="none" stroke="#a8a8a8" stroke-width="0.9" stroke-opacity="0.9"/>
<polyline points="377.0,232.3 379.0,232.0 385.0,230.5 445.0,230.6 450.0,232.2 457.0,232.3" fill="none" stroke="#a8a8a8" stroke-width="0.9" stroke-opacity="0.9"/>
<polyline points="311.8,232.6 318.6,232.0 330,232.0 339,232.2 342.3,233.3 350,233.1 360,233.0 368.4,232.9 372.9,231.5 377.4,230.6 390,231.0 410,231.3 430,231.5 443,231.9 457,231.9" fill="none" stroke="#3f6ff2" stroke-width="2.2" stroke-linejoin="round"/>
<polyline points="311.9,371.6 314,371.0 317,370.9 320,371.6 325,371.9 330,371.8 334,371.3 338,371.7 343,371.9 348,371.5 353.5,370.9 355.1,366 356.6,342.8 358.1,327 360.2,319.6 361.9,302.7 363.6,290 363.8,271.6 368.8,257.7 372.8,251.7 374.4,247.8 376.3,231.9 380,231.6 400,231.8 420,232.0 438.5,232.0 443,233.8 450,233.8 457,233.4" fill="none" stroke="#ee1c1c" stroke-width="2.6" stroke-linejoin="round"/>
<rect x="302.3" y="219.0" width="154.70" height="154.00" fill="none" stroke="#4d4d4d" stroke-width="1"/>
<line x1="302.3" y1="373.00" x2="305.8" y2="373.00" stroke="#4d4d4d" stroke-width="1"/>
<text x="300.0" y="376.2" font-size="9.0" text-anchor="end" fill="#1a1a1a" font-weight="normal" font-style="normal" >0.0</text>
<line x1="302.3" y1="347.33" x2="305.8" y2="347.33" stroke="#4d4d4d" stroke-width="1"/>
<text x="300.0" y="350.53" font-size="9.0" text-anchor="end" fill="#1a1a1a" font-weight="normal" font-style="normal" >0.5</text>
<line x1="302.3" y1="321.67" x2="305.8" y2="321.67" stroke="#4d4d4d" stroke-width="1"/>
<text x="300.0" y="324.87" font-size="9.0" text-anchor="end" fill="#1a1a1a" font-weight="normal" font-style="normal" >1.0</text>
<line x1="302.3" y1="296.00" x2="305.8" y2="296.00" stroke="#4d4d4d" stroke-width="1"/>
<text x="300.0" y="299.2" font-size="9.0" text-anchor="end" fill="#1a1a1a" font-weight="normal" font-style="normal" >1.5</text>
<line x1="302.3" y1="270.33" x2="305.8" y2="270.33" stroke="#4d4d4d" stroke-width="1"/>
<text x="300.0" y="273.53" font-size="9.0" text-anchor="end" fill="#1a1a1a" font-weight="normal" font-style="normal" >2.0</text>
<line x1="302.3" y1="244.67" x2="305.8" y2="244.67" stroke="#4d4d4d" stroke-width="1"/>
<text x="300.0" y="247.87" font-size="9.0" text-anchor="end" fill="#1a1a1a" font-weight="normal" font-style="normal" >2.5</text>
<line x1="302.3" y1="219.00" x2="305.8" y2="219.00" stroke="#4d4d4d" stroke-width="1"/>
<text x="300.0" y="222.2" font-size="9.0" text-anchor="end" fill="#1a1a1a" font-weight="normal" font-style="normal" >3.0</text>
<line x1="302.30" y1="373.0" x2="302.30" y2="369.8" stroke="#4d4d4d" stroke-width="1"/>
<text x="302.3" y="384.0" font-size="9.0" text-anchor="middle" fill="#1a1a1a" font-weight="normal" font-style="normal" >1</text>
<line x1="333.24" y1="373.0" x2="333.24" y2="369.8" stroke="#4d4d4d" stroke-width="1"/>
<text x="333.24" y="384.0" font-size="9.0" text-anchor="middle" fill="#1a1a1a" font-weight="normal" font-style="normal" >2</text>
<line x1="364.18" y1="373.0" x2="364.18" y2="369.8" stroke="#4d4d4d" stroke-width="1"/>
<text x="364.18" y="384.0" font-size="9.0" text-anchor="middle" fill="#1a1a1a" font-weight="normal" font-style="normal" >3</text>
<line x1="395.12" y1="373.0" x2="395.12" y2="369.8" stroke="#4d4d4d" stroke-width="1"/>
<text x="395.12" y="384.0" font-size="9.0" text-anchor="middle" fill="#1a1a1a" font-weight="normal" font-style="normal" >4</text>
<line x1="426.06" y1="373.0" x2="426.06" y2="369.8" stroke="#4d4d4d" stroke-width="1"/>
<text x="426.06" y="384.0" font-size="9.0" text-anchor="middle" fill="#1a1a1a" font-weight="normal" font-style="normal" >5</text>
<line x1="457.00" y1="373.0" x2="457.00" y2="369.8" stroke="#4d4d4d" stroke-width="1"/>
<text x="457.0" y="384.0" font-size="9.0" text-anchor="middle" fill="#1a1a1a" font-weight="normal" font-style="normal" >6</text>
<text x="0" y="0" font-size="9.2" text-anchor="middle" fill="#1a1a1a" transform="translate(282.8,295.6) rotate(-90)"><tspan font-style="italic">R</tspan> (ohm)</text>
<text x="370.9" y="400.8" font-size="9.0" fill="#1a1a1a"><tspan font-style="italic">T</tspan> (K)</text>
<text x="319.6" y="248.3" font-size="9.8" fill="#3c6fcf"><tspan font-style="italic">B</tspan> = 1 T</text>
<text x="315.9" y="354.2" font-size="9.8" fill="#d8141c"><tspan font-style="italic">B</tspan> = 0 T</text>
<text x="308.2" y="289.3" font-size="9.6" fill="#8f8f8f"><tspan font-style="italic">I</tspan><tspan font-size="6.6" dy="2">ds</tspan><tspan dy="-2"> = 0.1 μA</tspan></text>
<rect x="384.6" y="279.3" width="64.40" height="65.90" fill="none" stroke="#6a6a6a" stroke-width="0.8"/>
<rect x="411.9" y="332.02" width="1.00" height="13.18" fill="#f2a385"/>
<rect x="415.2" y="292.48" width="1.60" height="52.72" fill="#f2a385"/>
<rect x="416.8" y="318.84" width="1.90" height="26.36" fill="#f2a385"/>
<rect x="418.7" y="332.02" width="1.30" height="13.18" fill="#f2a385"/>
<line x1="384.6" y1="345.20" x2="386.6" y2="345.20" stroke="#555" stroke-width="0.8"/>
<text x="382.0" y="347.6" font-size="6.9" text-anchor="end" fill="#1a1a1a" font-weight="normal" font-style="normal" >0</text>
<line x1="384.6" y1="332.02" x2="386.6" y2="332.02" stroke="#555" stroke-width="0.8"/>
<text x="382.0" y="334.42" font-size="6.9" text-anchor="end" fill="#1a1a1a" font-weight="normal" font-style="normal" >2</text>
<line x1="384.6" y1="318.84" x2="386.6" y2="318.84" stroke="#555" stroke-width="0.8"/>
<text x="382.0" y="321.24" font-size="6.9" text-anchor="end" fill="#1a1a1a" font-weight="normal" font-style="normal" >4</text>
<line x1="384.6" y1="305.66" x2="386.6" y2="305.66" stroke="#555" stroke-width="0.8"/>
<text x="382.0" y="308.06" font-size="6.9" text-anchor="end" fill="#1a1a1a" font-weight="normal" font-style="normal" >6</text>
<line x1="384.6" y1="292.48" x2="386.6" y2="292.48" stroke="#555" stroke-width="0.8"/>
<text x="382.0" y="294.88" font-size="6.9" text-anchor="end" fill="#1a1a1a" font-weight="normal" font-style="normal" >8</text>
<line x1="384.6" y1="279.30" x2="386.6" y2="279.30" stroke="#555" stroke-width="0.8"/>
<text x="382.0" y="281.7" font-size="6.9" text-anchor="end" fill="#1a1a1a" font-weight="normal" font-style="normal" >10</text>
<line x1="384.60" y1="345.2" x2="384.60" y2="343.2" stroke="#555" stroke-width="0.8"/>
<text x="384.6" y="352.7" font-size="6.9" text-anchor="middle" fill="#1a1a1a" font-weight="normal" font-style="normal" >2.0</text>
<line x1="400.70" y1="345.2" x2="400.70" y2="343.2" stroke="#555" stroke-width="0.8"/>
<text x="400.7" y="352.7" font-size="6.9" text-anchor="middle" fill="#1a1a1a" font-weight="normal" font-style="normal" >2.5</text>
<line x1="416.80" y1="345.2" x2="416.80" y2="343.2" stroke="#555" stroke-width="0.8"/>
<text x="416.8" y="352.7" font-size="6.9" text-anchor="middle" fill="#1a1a1a" font-weight="normal" font-style="normal" >3.0</text>
<line x1="432.90" y1="345.2" x2="432.90" y2="343.2" stroke="#555" stroke-width="0.8"/>
<text x="432.9" y="352.7" font-size="6.9" text-anchor="middle" fill="#1a1a1a" font-weight="normal" font-style="normal" >3.5</text>
<line x1="449.00" y1="345.2" x2="449.00" y2="343.2" stroke="#555" stroke-width="0.8"/>
<text x="449.0" y="352.7" font-size="6.9" text-anchor="middle" fill="#1a1a1a" font-weight="normal" font-style="normal" >4.0</text>
<text x="0" y="0" font-size="7.4" text-anchor="middle" fill="#1a1a1a" transform="translate(373.8,312.3) rotate(-90)">Counts</text>
<text x="407.4" y="362.6" font-size="7.4" fill="#1a1a1a"><tspan font-style="italic">T</tspan><tspan font-size="5" dy="1.5">c</tspan><tspan dy="-1.5"> (K)</tspan></text>
<rect x="529.8" y="219.0" width="154.60" height="154.30" fill="#fff"/>
<polyline points="530.30,372.40 553.20,349.20 558.90,341.40 570.00,318.90 590.00,306.70 607.10,296.10 624.20,285.50 644.20,273.30 655.30,250.80 661.00,243.00 683.90,219.80" fill="none" stroke="#c2def0" stroke-width="1.2" stroke-linejoin="round"/>
<polyline points="530.30,372.40 542.20,360.20 553.60,345.60 558.20,338.20 562.10,330.20 566.00,316.80 569.60,308.90 575.00,303.60 590.00,300.40 607.10,296.10 624.20,291.80 639.20,288.60 644.60,283.30 648.20,275.40 652.10,262.00 656.00,254.00 660.60,246.60 672.00,232.00 683.90,219.80" fill="none" stroke="#f7c99a" stroke-width="1.3" stroke-linejoin="round"/>
<polyline points="530.10,372.60 542.20,359.20 550.20,349.20 556.20,341.70 561.20,334.20 564.20,326.20 566.70,316.20 568.70,307.70 570.70,302.20 572.70,297.20 589.20,296.40 607.10,296.10 625.00,295.80 641.50,295.00 643.50,290.00 645.50,284.50 647.50,276.00 650.00,266.00 653.00,258.00 658.00,250.50 664.00,243.00 672.00,233.00 684.10,219.60" fill="none" stroke="#e86a5c" stroke-width="1.3" stroke-linejoin="round"/>
<polyline points="530.30,372.60 552.20,347.20 564.20,335.20 584.20,315.20 607.10,296.10 630.00,277.00 650.00,257.00 662.00,245.00 683.90,219.60" fill="none" stroke="#4cb3e6" stroke-width="1.6" stroke-linejoin="round"/>
<polyline points="529.80,373.20 607.10,296.10 684.40,219.00" fill="none" stroke="#1f63b5" stroke-width="1.5" stroke-linejoin="round"/>
<polyline points="529.80,372.90 538.20,364.20 544.20,356.20 549.70,349.20 554.90,342.10 559.30,335.20 562.30,328.20 564.60,316.00 566.50,304.90 568.30,300.40 570.50,296.80 589.20,296.20 607.10,296.10 625.00,296.00 643.70,295.40 645.90,291.80 647.70,287.30 649.60,276.20 651.90,264.00 654.90,257.00 659.30,250.10 664.50,243.00 670.00,236.00 676.00,228.00 684.40,219.30" fill="none" stroke="#b02a47" stroke-width="1.9" stroke-linejoin="round"/>
<rect x="529.8" y="219.0" width="154.60" height="154.30" fill="none" stroke="#4d4d4d" stroke-width="1"/>
<line x1="529.8" y1="224.31" x2="532.8" y2="224.31" stroke="#4d4d4d" stroke-width="1"/>
<text x="527.4" y="227.61" font-size="9.2" text-anchor="end" fill="#1a1a1a" font-weight="normal" font-style="normal" >600</text>
<line x1="529.8" y1="248.14" x2="532.8" y2="248.14" stroke="#4d4d4d" stroke-width="1"/>
<text x="527.4" y="251.44" font-size="9.2" text-anchor="end" fill="#1a1a1a" font-weight="normal" font-style="normal" >400</text>
<line x1="529.8" y1="271.97" x2="532.8" y2="271.97" stroke="#4d4d4d" stroke-width="1"/>
<text x="527.4" y="275.27" font-size="9.2" text-anchor="end" fill="#1a1a1a" font-weight="normal" font-style="normal" >200</text>
<line x1="529.8" y1="295.80" x2="532.8" y2="295.80" stroke="#4d4d4d" stroke-width="1"/>
<text x="527.4" y="299.1" font-size="9.2" text-anchor="end" fill="#1a1a1a" font-weight="normal" font-style="normal" >0</text>
<line x1="529.8" y1="319.63" x2="532.8" y2="319.63" stroke="#4d4d4d" stroke-width="1"/>
<text x="527.4" y="322.93" font-size="9.2" text-anchor="end" fill="#1a1a1a" font-weight="normal" font-style="normal" >-200</text>
<line x1="529.8" y1="343.46" x2="532.8" y2="343.46" stroke="#4d4d4d" stroke-width="1"/>
<text x="527.4" y="346.76" font-size="9.2" text-anchor="end" fill="#1a1a1a" font-weight="normal" font-style="normal" >-400</text>
<line x1="529.8" y1="367.29" x2="532.8" y2="367.29" stroke="#4d4d4d" stroke-width="1"/>
<text x="527.4" y="370.59" font-size="9.2" text-anchor="end" fill="#1a1a1a" font-weight="normal" font-style="normal" >-600</text>
<line x1="545.60" y1="373.3" x2="545.60" y2="370.3" stroke="#4d4d4d" stroke-width="1"/>
<text x="545.6" y="386.0" font-size="9.2" text-anchor="middle" fill="#1a1a1a" font-weight="normal" font-style="normal" >-200</text>
<line x1="576.60" y1="373.3" x2="576.60" y2="370.3" stroke="#4d4d4d" stroke-width="1"/>
<text x="576.6" y="386.0" font-size="9.2" text-anchor="middle" fill="#1a1a1a" font-weight="normal" font-style="normal" >-100</text>
<line x1="607.60" y1="373.3" x2="607.60" y2="370.3" stroke="#4d4d4d" stroke-width="1"/>
<text x="607.6" y="386.0" font-size="9.2" text-anchor="middle" fill="#1a1a1a" font-weight="normal" font-style="normal" >0</text>
<line x1="638.60" y1="373.3" x2="638.60" y2="370.3" stroke="#4d4d4d" stroke-width="1"/>
<text x="638.6" y="386.0" font-size="9.2" text-anchor="middle" fill="#1a1a1a" font-weight="normal" font-style="normal" >100</text>
<line x1="669.60" y1="373.3" x2="669.60" y2="370.3" stroke="#4d4d4d" stroke-width="1"/>
<text x="669.6" y="386.0" font-size="9.2" text-anchor="middle" fill="#1a1a1a" font-weight="normal" font-style="normal" >200</text>
<text x="0" y="0" font-size="9.2" text-anchor="middle" fill="#1a1a1a" transform="translate(504.2,295) rotate(-90)"><tspan font-style="italic">V</tspan><tspan font-size="6.4" dy="2">12</tspan><tspan dy="-2"> (μV)</tspan></text>
<text x="593.9" y="397.7" font-size="9.0" fill="#1a1a1a"><tspan font-style="italic">I</tspan><tspan font-size="6.5" dy="2">ds</tspan><tspan dy="-2"> (μA)</tspan></text>
<text x="570" y="351.9" font-size="9.6" fill="#8f8f8f"><tspan font-style="italic">B</tspan> = 0 T</text>
<line x1="613.3" y1="307.50" x2="629.8" y2="307.50" stroke="#1f63b5" stroke-width="1.6"/>
<text x="634.4" y="310.80" font-size="8.85" fill="#1a1a1a"><tspan font-style="italic">T</tspan> = 3.5 K</text>
<line x1="613.3" y1="317.90" x2="629.8" y2="317.90" stroke="#4cb3e6" stroke-width="1.6"/>
<text x="634.4" y="321.20" font-size="8.85" fill="#1a1a1a"><tspan font-style="italic">T</tspan> = 3.0 K</text>
<line x1="613.3" y1="328.30" x2="629.8" y2="328.30" stroke="#c2def0" stroke-width="1.6"/>
<text x="634.4" y="331.60" font-size="8.85" fill="#1a1a1a"><tspan font-style="italic">T</tspan> = 2.5 K</text>
<line x1="613.3" y1="338.70" x2="629.8" y2="338.70" stroke="#f7c99a" stroke-width="1.6"/>
<text x="634.4" y="342.00" font-size="8.85" fill="#1a1a1a"><tspan font-style="italic">T</tspan> = 2.0 K</text>
<line x1="613.3" y1="349.10" x2="629.8" y2="349.10" stroke="#e86a5c" stroke-width="1.6"/>
<text x="634.4" y="352.40" font-size="8.85" fill="#1a1a1a"><tspan font-style="italic">T</tspan> = 1.5 K</text>
<line x1="613.3" y1="359.50" x2="629.8" y2="359.50" stroke="#b02a47" stroke-width="1.6"/>
<text x="634.4" y="362.80" font-size="8.85" fill="#1a1a1a"><tspan font-style="italic">T</tspan> = 1.3 K</text>
<rect x="561.3" y="224.3" width="51.80" height="51.00" fill="#fff" stroke="#555" stroke-width="0.8"/>
<circle cx="562.17" cy="263.17" r="1.0" fill="#b4dcf7"/>
<circle cx="571.10" cy="259.01" r="1.0" fill="#b4dcf7"/>
<circle cx="576.46" cy="255.73" r="1.0" fill="#b4dcf7"/>
<circle cx="581.82" cy="253.05" r="1.0" fill="#b4dcf7"/>
<circle cx="582.61" cy="252.42" r="1.0" fill="#b4dcf7"/>
<circle cx="583.40" cy="251.79" r="1.0" fill="#b4dcf7"/>
<circle cx="584.19" cy="251.16" r="1.0" fill="#b4dcf7"/>
<circle cx="584.98" cy="250.52" r="1.0" fill="#b4dcf7"/>
<circle cx="585.77" cy="249.89" r="1.0" fill="#b4dcf7"/>
<circle cx="586.56" cy="249.26" r="1.0" fill="#b4dcf7"/>
<circle cx="587.35" cy="248.63" r="1.0" fill="#b4dcf7"/>
<circle cx="588.14" cy="248.00" r="1.0" fill="#b4dcf7"/>
<circle cx="588.93" cy="247.37" r="1.0" fill="#b4dcf7"/>
<circle cx="589.72" cy="246.73" r="1.0" fill="#b4dcf7"/>
<circle cx="590.50" cy="246.10" r="1.0" fill="#b4dcf7"/>
<circle cx="591.29" cy="245.47" r="1.0" fill="#b4dcf7"/>
<circle cx="592.08" cy="244.84" r="1.0" fill="#b4dcf7"/>
<circle cx="592.87" cy="244.21" r="1.0" fill="#b4dcf7"/>
<circle cx="593.66" cy="243.58" r="1.0" fill="#b4dcf7"/>
<circle cx="594.45" cy="242.94" r="1.0" fill="#b4dcf7"/>
<circle cx="595.24" cy="242.31" r="1.0" fill="#b4dcf7"/>
<circle cx="596.03" cy="241.68" r="1.0" fill="#b4dcf7"/>
<circle cx="596.82" cy="241.05" r="1.0" fill="#b4dcf7"/>
<circle cx="597.61" cy="240.42" r="1.0" fill="#b4dcf7"/>
<circle cx="598.40" cy="239.79" r="1.0" fill="#b4dcf7"/>
<circle cx="599.19" cy="239.16" r="1.0" fill="#b4dcf7"/>
<circle cx="599.98" cy="238.52" r="1.0" fill="#b4dcf7"/>
<circle cx="600.77" cy="237.89" r="1.0" fill="#b4dcf7"/>
<circle cx="601.56" cy="237.26" r="1.0" fill="#b4dcf7"/>
<circle cx="602.35" cy="236.63" r="1.0" fill="#b4dcf7"/>
<circle cx="603.14" cy="236.00" r="1.0" fill="#b4dcf7"/>
<circle cx="603.93" cy="235.37" r="1.0" fill="#b4dcf7"/>
<circle cx="604.72" cy="234.73" r="1.0" fill="#b4dcf7"/>
<circle cx="605.50" cy="234.10" r="1.0" fill="#b4dcf7"/>
<circle cx="606.29" cy="233.47" r="1.0" fill="#b4dcf7"/>
<circle cx="607.08" cy="232.84" r="1.0" fill="#b4dcf7"/>
<circle cx="607.87" cy="232.21" r="1.0" fill="#b4dcf7"/>
<circle cx="562.76" cy="264.66" r="1.0" fill="#5ab2ef"/>
<circle cx="564.25" cy="265.56" r="1.0" fill="#5ab2ef"/>
<circle cx="570.80" cy="259.90" r="1.0" fill="#5ab2ef"/>
<circle cx="575.87" cy="256.33" r="1.0" fill="#5ab2ef"/>
<circle cx="578.25" cy="254.84" r="1.0" fill="#5ab2ef"/>
<circle cx="581.08" cy="251.86" r="1.0" fill="#5ab2ef"/>
<circle cx="581.86" cy="251.23" r="1.0" fill="#5ab2ef"/>
<circle cx="582.65" cy="250.60" r="1.0" fill="#5ab2ef"/>
<circle cx="583.43" cy="249.98" r="1.0" fill="#5ab2ef"/>
<circle cx="584.21" cy="249.35" r="1.0" fill="#5ab2ef"/>
<circle cx="585.00" cy="248.72" r="1.0" fill="#5ab2ef"/>
<circle cx="585.78" cy="248.09" r="1.0" fill="#5ab2ef"/>
<circle cx="586.57" cy="247.47" r="1.0" fill="#5ab2ef"/>
<circle cx="587.35" cy="246.84" r="1.0" fill="#5ab2ef"/>
<circle cx="588.14" cy="246.21" r="1.0" fill="#5ab2ef"/>
<circle cx="588.92" cy="245.58" r="1.0" fill="#5ab2ef"/>
<circle cx="589.71" cy="244.95" r="1.0" fill="#5ab2ef"/>
<circle cx="590.49" cy="244.33" r="1.0" fill="#5ab2ef"/>
<circle cx="591.28" cy="243.70" r="1.0" fill="#5ab2ef"/>
<circle cx="592.06" cy="243.07" r="1.0" fill="#5ab2ef"/>
<circle cx="592.85" cy="242.44" r="1.0" fill="#5ab2ef"/>
<circle cx="593.63" cy="241.82" r="1.0" fill="#5ab2ef"/>
<circle cx="594.41" cy="241.19" r="1.0" fill="#5ab2ef"/>
<circle cx="595.20" cy="240.56" r="1.0" fill="#5ab2ef"/>
<circle cx="595.98" cy="239.93" r="1.0" fill="#5ab2ef"/>
<circle cx="596.77" cy="239.31" r="1.0" fill="#5ab2ef"/>
<circle cx="597.55" cy="238.68" r="1.0" fill="#5ab2ef"/>
<circle cx="598.34" cy="238.05" r="1.0" fill="#5ab2ef"/>
<circle cx="599.12" cy="237.42" r="1.0" fill="#5ab2ef"/>
<circle cx="599.91" cy="236.79" r="1.0" fill="#5ab2ef"/>
<circle cx="600.69" cy="236.17" r="1.0" fill="#5ab2ef"/>
<circle cx="601.48" cy="235.54" r="1.0" fill="#5ab2ef"/>
<circle cx="602.26" cy="234.91" r="1.0" fill="#5ab2ef"/>
<circle cx="603.05" cy="234.28" r="1.0" fill="#5ab2ef"/>
<circle cx="603.83" cy="233.66" r="1.0" fill="#5ab2ef"/>
<circle cx="604.61" cy="233.03" r="1.0" fill="#5ab2ef"/>
<circle cx="605.40" cy="232.40" r="1.0" fill="#5ab2ef"/>
<circle cx="606.18" cy="231.77" r="1.0" fill="#5ab2ef"/>
<circle cx="606.97" cy="231.15" r="1.0" fill="#5ab2ef"/>
<circle cx="607.75" cy="230.52" r="1.0" fill="#5ab2ef"/>
<circle cx="608.54" cy="229.89" r="1.0" fill="#5ab2ef"/>
<circle cx="609.32" cy="229.26" r="1.0" fill="#5ab2ef"/>
<circle cx="610.11" cy="228.63" r="1.0" fill="#5ab2ef"/>
<circle cx="570.65" cy="257.52" r="1.05" fill="#1c3ef2"/>
<circle cx="575.57" cy="254.54" r="1.05" fill="#1c3ef2"/>
<circle cx="577.35" cy="253.35" r="1.05" fill="#1c3ef2"/>
<circle cx="580.03" cy="250.97" r="1.05" fill="#1c3ef2"/>
<circle cx="581.22" cy="249.92" r="1.05" fill="#1c3ef2"/>
<circle cx="581.82" cy="249.48" r="1.05" fill="#1c3ef2"/>
<circle cx="582.58" cy="248.90" r="1.05" fill="#1c3ef2"/>
<circle cx="583.33" cy="248.33" r="1.05" fill="#1c3ef2"/>
<circle cx="584.09" cy="247.76" r="1.05" fill="#1c3ef2"/>
<circle cx="584.84" cy="247.18" r="1.05" fill="#1c3ef2"/>
<circle cx="585.60" cy="246.61" r="1.05" fill="#1c3ef2"/>
<circle cx="586.35" cy="246.04" r="1.05" fill="#1c3ef2"/>
<circle cx="587.11" cy="245.46" r="1.05" fill="#1c3ef2"/>
<circle cx="587.86" cy="244.89" r="1.05" fill="#1c3ef2"/>
<circle cx="588.62" cy="244.31" r="1.05" fill="#1c3ef2"/>
<circle cx="589.37" cy="243.74" r="1.05" fill="#1c3ef2"/>
<circle cx="590.13" cy="243.17" r="1.05" fill="#1c3ef2"/>
<circle cx="590.88" cy="242.59" r="1.05" fill="#1c3ef2"/>
<circle cx="591.64" cy="242.02" r="1.05" fill="#1c3ef2"/>
<circle cx="592.39" cy="241.45" r="1.05" fill="#1c3ef2"/>
<circle cx="593.15" cy="240.87" r="1.05" fill="#1c3ef2"/>
<circle cx="593.90" cy="240.30" r="1.05" fill="#1c3ef2"/>
<circle cx="594.66" cy="239.72" r="1.05" fill="#1c3ef2"/>
<circle cx="595.42" cy="239.15" r="1.05" fill="#1c3ef2"/>
<circle cx="596.17" cy="238.58" r="1.05" fill="#1c3ef2"/>
<circle cx="596.93" cy="238.00" r="1.05" fill="#1c3ef2"/>
<circle cx="597.68" cy="237.43" r="1.05" fill="#1c3ef2"/>
<circle cx="598.44" cy="236.86" r="1.05" fill="#1c3ef2"/>
<circle cx="599.19" cy="236.28" r="1.05" fill="#1c3ef2"/>
<circle cx="599.95" cy="235.71" r="1.05" fill="#1c3ef2"/>
<circle cx="600.70" cy="235.13" r="1.05" fill="#1c3ef2"/>
<circle cx="601.46" cy="234.56" r="1.05" fill="#1c3ef2"/>
<circle cx="602.21" cy="233.99" r="1.05" fill="#1c3ef2"/>
<circle cx="602.97" cy="233.41" r="1.05" fill="#1c3ef2"/>
<circle cx="603.72" cy="232.84" r="1.05" fill="#1c3ef2"/>
<circle cx="604.48" cy="232.27" r="1.05" fill="#1c3ef2"/>
<circle cx="605.23" cy="231.69" r="1.05" fill="#1c3ef2"/>
<circle cx="605.99" cy="231.12" r="1.05" fill="#1c3ef2"/>
<circle cx="606.74" cy="230.54" r="1.05" fill="#1c3ef2"/>
<circle cx="607.50" cy="229.97" r="1.05" fill="#1c3ef2"/>
<circle cx="608.25" cy="229.40" r="1.05" fill="#1c3ef2"/>
<circle cx="609.01" cy="228.82" r="1.05" fill="#1c3ef2"/>
<circle cx="609.77" cy="228.25" r="1.05" fill="#1c3ef2"/>
<circle cx="610.52" cy="227.68" r="1.05" fill="#1c3ef2"/>
<circle cx="611.28" cy="227.10" r="1.05" fill="#1c3ef2"/>
<circle cx="612.03" cy="226.53" r="1.05" fill="#1c3ef2"/>
<circle cx="612.79" cy="225.96" r="1.05" fill="#1c3ef2"/>
<circle cx="564.70" cy="263.92" r="1.0" fill="#f8b02c"/>
<circle cx="569.91" cy="262.28" r="1.0" fill="#f8b02c"/>
<circle cx="573.48" cy="261.54" r="1.0" fill="#f8b02c"/>
<circle cx="577.06" cy="260.64" r="1.0" fill="#f8b02c"/>
<circle cx="580.03" cy="260.05" r="1.0" fill="#f8b02c"/>
<circle cx="583.01" cy="259.30" r="1.0" fill="#f8b02c"/>
<circle cx="585.54" cy="258.56" r="1.0" fill="#f8b02c"/>
<circle cx="586.59" cy="258.28" r="1.0" fill="#f8b02c"/>
<circle cx="587.62" cy="257.99" r="1.0" fill="#f8b02c"/>
<circle cx="588.61" cy="257.69" r="1.0" fill="#f8b02c"/>
<circle cx="589.59" cy="257.37" r="1.0" fill="#f8b02c"/>
<circle cx="590.53" cy="257.03" r="1.0" fill="#f8b02c"/>
<circle cx="591.45" cy="256.69" r="1.0" fill="#f8b02c"/>
<circle cx="592.34" cy="256.33" r="1.0" fill="#f8b02c"/>
<circle cx="593.21" cy="255.95" r="1.0" fill="#f8b02c"/>
<circle cx="594.05" cy="255.56" r="1.0" fill="#f8b02c"/>
<circle cx="594.86" cy="255.16" r="1.0" fill="#f8b02c"/>
<circle cx="595.65" cy="254.74" r="1.0" fill="#f8b02c"/>
<circle cx="596.41" cy="254.31" r="1.0" fill="#f8b02c"/>
<circle cx="597.14" cy="253.86" r="1.0" fill="#f8b02c"/>
<circle cx="597.85" cy="253.40" r="1.0" fill="#f8b02c"/>
<circle cx="598.53" cy="252.92" r="1.0" fill="#f8b02c"/>
<circle cx="599.19" cy="252.43" r="1.0" fill="#f8b02c"/>
<circle cx="599.81" cy="251.93" r="1.0" fill="#f8b02c"/>
<circle cx="600.42" cy="251.41" r="1.0" fill="#f8b02c"/>
<circle cx="600.99" cy="250.88" r="1.0" fill="#f8b02c"/>
<circle cx="601.54" cy="250.34" r="1.0" fill="#f8b02c"/>
<circle cx="602.07" cy="249.78" r="1.0" fill="#f8b02c"/>
<circle cx="602.66" cy="248.29" r="1.0" fill="#f8b02c"/>
<circle cx="602.89" cy="245.99" r="1.0" fill="#f8b02c"/>
<circle cx="603.25" cy="243.74" r="1.0" fill="#f8b02c"/>
<circle cx="603.74" cy="241.54" r="1.0" fill="#f8b02c"/>
<circle cx="604.35" cy="239.38" r="1.0" fill="#f8b02c"/>
<circle cx="605.10" cy="237.26" r="1.0" fill="#f8b02c"/>
<circle cx="605.97" cy="235.19" r="1.0" fill="#f8b02c"/>
<circle cx="606.97" cy="233.16" r="1.0" fill="#f8b02c"/>
<circle cx="608.10" cy="231.17" r="1.0" fill="#f8b02c"/>
<circle cx="609.36" cy="229.23" r="1.0" fill="#f8b02c"/>
<circle cx="560.98" cy="267.94" r="1.0" fill="#e41c1c"/>
<circle cx="570.51" cy="267.64" r="1.0" fill="#e41c1c"/>
<circle cx="573.48" cy="267.34" r="1.0" fill="#e41c1c"/>
<circle cx="576.16" cy="267.04" r="1.0" fill="#e41c1c"/>
<circle cx="578.84" cy="266.60" r="1.0" fill="#e41c1c"/>
<circle cx="581.52" cy="265.85" r="1.0" fill="#e41c1c"/>
<circle cx="582.61" cy="265.63" r="1.0" fill="#e41c1c"/>
<circle cx="583.67" cy="265.41" r="1.0" fill="#e41c1c"/>
<circle cx="584.72" cy="265.17" r="1.0" fill="#e41c1c"/>
<circle cx="585.75" cy="264.92" r="1.0" fill="#e41c1c"/>
<circle cx="586.75" cy="264.66" r="1.0" fill="#e41c1c"/>
<circle cx="587.74" cy="264.40" r="1.0" fill="#e41c1c"/>
<circle cx="588.70" cy="264.12" r="1.0" fill="#e41c1c"/>
<circle cx="589.65" cy="263.83" r="1.0" fill="#e41c1c"/>
<circle cx="590.57" cy="263.54" r="1.0" fill="#e41c1c"/>
<circle cx="591.48" cy="263.23" r="1.0" fill="#e41c1c"/>
<circle cx="592.36" cy="262.92" r="1.0" fill="#e41c1c"/>
<circle cx="593.23" cy="262.60" r="1.0" fill="#e41c1c"/>
<circle cx="594.08" cy="262.26" r="1.0" fill="#e41c1c"/>
<circle cx="594.90" cy="261.92" r="1.0" fill="#e41c1c"/>
<circle cx="595.71" cy="261.57" r="1.0" fill="#e41c1c"/>
<circle cx="596.49" cy="261.20" r="1.0" fill="#e41c1c"/>
<circle cx="597.26" cy="260.83" r="1.0" fill="#e41c1c"/>
<circle cx="598.00" cy="260.45" r="1.0" fill="#e41c1c"/>
<circle cx="598.73" cy="260.06" r="1.0" fill="#e41c1c"/>
<circle cx="599.44" cy="259.66" r="1.0" fill="#e41c1c"/>
<circle cx="600.12" cy="259.25" r="1.0" fill="#e41c1c"/>
<circle cx="600.79" cy="258.83" r="1.0" fill="#e41c1c"/>
<circle cx="601.43" cy="258.40" r="1.0" fill="#e41c1c"/>
<circle cx="602.06" cy="257.96" r="1.0" fill="#e41c1c"/>
<circle cx="602.66" cy="257.52" r="1.0" fill="#e41c1c"/>
<circle cx="602.96" cy="256.33" r="1.0" fill="#e41c1c"/>
<circle cx="603.27" cy="252.94" r="1.0" fill="#e41c1c"/>
<circle cx="603.65" cy="249.68" r="1.0" fill="#e41c1c"/>
<circle cx="604.12" cy="246.53" r="1.0" fill="#e41c1c"/>
<circle cx="604.67" cy="243.50" r="1.0" fill="#e41c1c"/>
<circle cx="605.29" cy="240.59" r="1.0" fill="#e41c1c"/>
<circle cx="606.00" cy="237.80" r="1.0" fill="#e41c1c"/>
<circle cx="606.79" cy="235.12" r="1.0" fill="#e41c1c"/>
<circle cx="607.67" cy="232.56" r="1.0" fill="#e41c1c"/>
<circle cx="608.62" cy="230.12" r="1.0" fill="#e41c1c"/>
<circle cx="570.51" cy="269.13" r="0.95" fill="#e41c1c"/>
<circle cx="573.48" cy="268.83" r="0.95" fill="#e41c1c"/>
<circle cx="576.16" cy="268.53" r="0.95" fill="#e41c1c"/>
<circle cx="578.84" cy="268.09" r="0.95" fill="#e41c1c"/>
<circle cx="581.52" cy="267.64" r="0.95" fill="#e41c1c"/>
<circle cx="582.70" cy="267.38" r="0.95" fill="#e41c1c"/>
<circle cx="583.86" cy="267.10" r="0.95" fill="#e41c1c"/>
<circle cx="584.99" cy="266.82" r="0.95" fill="#e41c1c"/>
<circle cx="586.10" cy="266.52" r="0.95" fill="#e41c1c"/>
<circle cx="587.18" cy="266.22" r="0.95" fill="#e41c1c"/>
<circle cx="588.24" cy="265.90" r="0.95" fill="#e41c1c"/>
<circle cx="589.28" cy="265.58" r="0.95" fill="#e41c1c"/>
<circle cx="590.29" cy="265.24" r="0.95" fill="#e41c1c"/>
<circle cx="591.28" cy="264.90" r="0.95" fill="#e41c1c"/>
<circle cx="592.25" cy="264.54" r="0.95" fill="#e41c1c"/>
<circle cx="593.19" cy="264.18" r="0.95" fill="#e41c1c"/>
<circle cx="594.11" cy="263.80" r="0.95" fill="#e41c1c"/>
<circle cx="595.01" cy="263.42" r="0.95" fill="#e41c1c"/>
<circle cx="595.88" cy="263.02" r="0.95" fill="#e41c1c"/>
<circle cx="596.73" cy="262.62" r="0.95" fill="#e41c1c"/>
<circle cx="597.55" cy="262.20" r="0.95" fill="#e41c1c"/>
<circle cx="598.35" cy="261.77" r="0.95" fill="#e41c1c"/>
<circle cx="599.13" cy="261.34" r="0.95" fill="#e41c1c"/>
<circle cx="599.88" cy="260.89" r="0.95" fill="#e41c1c"/>
<circle cx="600.61" cy="260.44" r="0.95" fill="#e41c1c"/>
<circle cx="601.32" cy="259.97" r="0.95" fill="#e41c1c"/>
<circle cx="602.00" cy="259.49" r="0.95" fill="#e41c1c"/>
<circle cx="602.66" cy="259.01" r="0.95" fill="#e41c1c"/>
<circle cx="563.96" cy="271.36" r="1.0" fill="#9e1212"/>
<circle cx="571.10" cy="270.92" r="1.0" fill="#9e1212"/>
<circle cx="574.08" cy="270.62" r="1.0" fill="#9e1212"/>
<circle cx="577.06" cy="270.32" r="1.0" fill="#9e1212"/>
<circle cx="579.74" cy="270.02" r="1.0" fill="#9e1212"/>
<circle cx="581.82" cy="269.58" r="1.0" fill="#9e1212"/>
<circle cx="582.97" cy="269.33" r="1.0" fill="#9e1212"/>
<circle cx="584.11" cy="269.08" r="1.0" fill="#9e1212"/>
<circle cx="585.21" cy="268.80" r="1.0" fill="#9e1212"/>
<circle cx="586.30" cy="268.51" r="1.0" fill="#9e1212"/>
<circle cx="587.36" cy="268.21" r="1.0" fill="#9e1212"/>
<circle cx="588.41" cy="267.88" r="1.0" fill="#9e1212"/>
<circle cx="589.42" cy="267.54" r="1.0" fill="#9e1212"/>
<circle cx="590.42" cy="267.19" r="1.0" fill="#9e1212"/>
<circle cx="591.39" cy="266.82" r="1.0" fill="#9e1212"/>
<circle cx="592.35" cy="266.43" r="1.0" fill="#9e1212"/>
<circle cx="593.27" cy="266.02" r="1.0" fill="#9e1212"/>
<circle cx="594.18" cy="265.60" r="1.0" fill="#9e1212"/>
<circle cx="595.06" cy="265.17" r="1.0" fill="#9e1212"/>
<circle cx="595.93" cy="264.71" r="1.0" fill="#9e1212"/>
<circle cx="596.76" cy="264.24" r="1.0" fill="#9e1212"/>
<circle cx="597.58" cy="263.76" r="1.0" fill="#9e1212"/>
<circle cx="598.37" cy="263.26" r="1.0" fill="#9e1212"/>
<circle cx="599.14" cy="262.74" r="1.0" fill="#9e1212"/>
<circle cx="599.89" cy="262.20" r="1.0" fill="#9e1212"/>
<circle cx="600.62" cy="261.65" r="1.0" fill="#9e1212"/>
<circle cx="601.32" cy="261.08" r="1.0" fill="#9e1212"/>
<circle cx="602.00" cy="260.50" r="1.0" fill="#9e1212"/>
<circle cx="602.66" cy="259.90" r="1.0" fill="#9e1212"/>
<circle cx="602.96" cy="258.41" r="1.0" fill="#9e1212"/>
<circle cx="603.26" cy="256.92" r="1.0" fill="#9e1212"/>
<circle cx="603.56" cy="255.43" r="1.0" fill="#9e1212"/>
<line x1="561.3" y1="224.30" x2="563.3" y2="224.30" stroke="#555" stroke-width="0.8"/>
<text x="557.0" y="227.40" font-size="6.1" text-anchor="end" fill="#1a1a1a">10<tspan font-size="4.3" dy="-2.7">-3</tspan></text>
<line x1="561.3" y1="241.30" x2="563.3" y2="241.30" stroke="#555" stroke-width="0.8"/>
<text x="557.0" y="244.40" font-size="6.1" text-anchor="end" fill="#1a1a1a">10<tspan font-size="4.3" dy="-2.7">-4</tspan></text>
<line x1="561.3" y1="258.30" x2="563.3" y2="258.30" stroke="#555" stroke-width="0.8"/>
<text x="557.0" y="261.40" font-size="6.1" text-anchor="end" fill="#1a1a1a">10<tspan font-size="4.3" dy="-2.7">-5</tspan></text>
<line x1="561.3" y1="275.30" x2="563.3" y2="275.30" stroke="#555" stroke-width="0.8"/>
<text x="557.0" y="278.40" font-size="6.1" text-anchor="end" fill="#1a1a1a">10<tspan font-size="4.3" dy="-2.7">-6</tspan></text>
<line x1="578.80" y1="275.3" x2="578.80" y2="277.1" stroke="#555" stroke-width="0.8"/>
<text x="578.80" y="288.6" font-size="6.3" text-anchor="middle" fill="#1a1a1a">10<tspan font-size="4.3" dy="-2.9">-5</tspan></text>
<line x1="601.50" y1="275.3" x2="601.50" y2="277.1" stroke="#555" stroke-width="0.8"/>
<text x="601.50" y="288.6" font-size="6.3" text-anchor="middle" fill="#1a1a1a">10<tspan font-size="4.3" dy="-2.9">-4</tspan></text>
<text x="0" y="0" font-size="6.4" text-anchor="middle" fill="#1a1a1a" transform="translate(543.6,248.5) rotate(-90)"><tspan font-style="italic">V</tspan><tspan font-size="4.5" dy="1.5">12</tspan><tspan dy="-1.5"> (V)</tspan></text>
<text x="578.9" y="294.6" font-size="6.4" fill="#1a1a1a"><tspan font-style="italic">I</tspan><tspan font-size="4.5" dy="1.5">ds</tspan><tspan dy="-1.5"> (A)</tspan></text>
<text x="583.3" y="232.7" font-size="9.6" fill="#1f74e4" stroke="#1f74e4" stroke-width="0.25"><tspan font-style="italic">α</tspan>=1</text>
<text x="562.5" y="244.1" font-size="9.6" fill="#f7b12a" stroke="#f7b12a" stroke-width="0.25"><tspan font-style="italic">α</tspan>=3.6</text>
<text x="593.7" y="273.6" font-size="9.6" fill="#cc1a1a" stroke="#cc1a1a" stroke-width="0.25"><tspan font-style="italic">α</tspan>=7</text></svg>
</body></html>
